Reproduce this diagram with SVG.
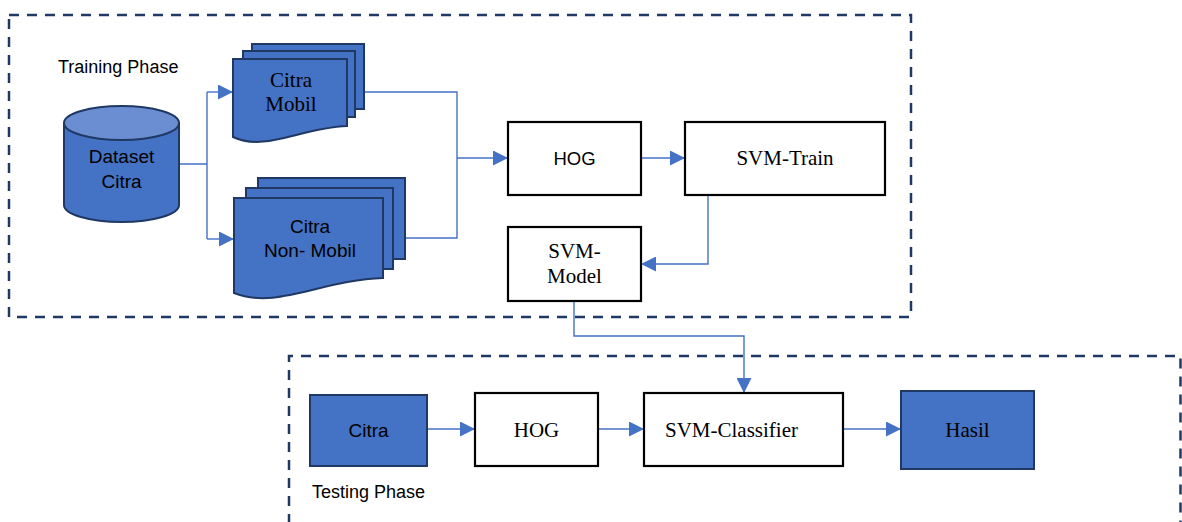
<svg xmlns="http://www.w3.org/2000/svg" width="1182" height="522" viewBox="0 0 1182 522">
  <defs>
    <marker id="arrow" viewBox="0 0 15 15" refX="15" refY="7.5" markerWidth="15" markerHeight="15" markerUnits="userSpaceOnUse" orient="auto">
      <path d="M0,0 L15,7.5 L0,15 Z" fill="#4472C4"/>
    </marker>
    <style>
      .phase { fill: none; stroke: #203864; stroke-width: 2.5; stroke-dasharray: 10 8; }
      .blue { fill: #4472C4; stroke: #203864; stroke-width: 2; }
      .cyltop { fill: #6B8ED3; stroke: #203864; stroke-width: 2; }
      .box { fill: #ffffff; stroke: #000000; stroke-width: 2.2; }
      .conn { fill: none; stroke: #4472C4; stroke-width: 1.4; }
      .sans { font-family: "Liberation Sans", Arial, sans-serif; fill: #000000; }
      .serif { font-family: "Liberation Serif", "Times New Roman", serif; fill: #000000; font-size: 21px; }
      .mid { text-anchor: middle; }
    </style>
  </defs>

  <!-- phase frames -->
  <g id="training-phase">
    <rect class="phase" x="9" y="15" width="902" height="302"/>
    <text class="sans" x="58" y="73" font-size="18">Training Phase</text>
  </g>
  <g id="testing-phase">
    <path class="phase" d="M289,524 V356 H1180.5 V524"/>
    <text class="sans" x="312" y="498" font-size="18">Testing Phase</text>
  </g>

  <!-- connectors -->
  <g id="connectors">
    <path class="conn" d="M179,164 H207 M207,92 V239"/>
    <path class="conn" d="M207,92 H233" marker-end="url(#arrow)"/>
    <path class="conn" d="M207,239 H234" marker-end="url(#arrow)"/>
    <path class="conn" d="M364,92 H457 V238 H405"/>
    <path class="conn" d="M457,158 H508" marker-end="url(#arrow)"/>
    <path class="conn" d="M641,158 H685" marker-end="url(#arrow)"/>
    <path class="conn" d="M708,195 V264 H641" marker-end="url(#arrow)"/>
    <path class="conn" d="M574,301 V336 H744 V393" marker-end="url(#arrow)"/>
    <path class="conn" d="M427,429 H475" marker-end="url(#arrow)"/>
    <path class="conn" d="M598,429 H644" marker-end="url(#arrow)"/>
    <path class="conn" d="M843,429 H901" marker-end="url(#arrow)"/>
  </g>

  <!-- dataset store -->
  <g id="dataset-citra">
    <path class="blue" d="M64,123 V205 A57.5,17 0 0 0 179,205 V123"/>
    <ellipse class="cyltop" cx="121.5" cy="123" rx="57.5" ry="17"/>
    <text class="sans mid" x="121.5" y="163" font-size="19">Dataset</text>
    <text class="sans mid" x="121.5" y="188" font-size="19">Citra</text>
  </g>

  <!-- image sets -->
  <g id="citra-mobil">
    <rect class="blue" x="252" y="44" width="112" height="65"/>
    <rect class="blue" x="243" y="51" width="112" height="66"/>
    <path class="blue" d="M233,59 H347 V126 C300,128 265,152 233,137 Z"/>
    <text class="serif mid" x="291" y="87">Citra</text>
    <text class="serif mid" x="291" y="111">Mobil</text>
  </g>
  <g id="citra-non-mobil">
    <rect class="blue" x="258" y="178" width="147" height="81"/>
    <rect class="blue" x="246" y="188" width="147" height="81"/>
    <path class="blue" d="M234,198 H383 V278 C322,280 276,310 234,293 Z"/>
    <text class="sans mid" x="310" y="233" font-size="19">Citra</text>
    <text class="sans mid" x="310" y="257" font-size="19">Non- Mobil</text>
  </g>

  <!-- training steps -->
  <g id="hog-train">
    <rect class="box" x="508" y="122" width="133" height="73"/>
    <text class="sans mid" x="574.5" y="165" font-size="18.5">HOG</text>
  </g>
  <g id="svm-train">
    <rect class="box" x="685" y="122" width="200" height="73"/>
    <text class="serif mid" x="785" y="165">SVM-Train</text>
  </g>
  <g id="svm-model">
    <rect class="box" x="508" y="227" width="133" height="74"/>
    <text class="serif mid" x="574.5" y="258">SVM-</text>
    <text class="serif mid" x="574.5" y="283">Model</text>
  </g>

  <!-- testing steps -->
  <g id="citra-test">
    <rect class="blue" x="310" y="395" width="117" height="71"/>
    <text class="sans mid" x="368.5" y="437" font-size="19">Citra</text>
  </g>
  <g id="hog-test">
    <rect class="box" x="475" y="393" width="123" height="73"/>
    <text class="serif mid" x="536.5" y="437">HOG</text>
  </g>
  <g id="svm-classifier">
    <rect class="box" x="644" y="393" width="199" height="73"/>
    <text class="serif" x="665" y="437">SVM-Classifier</text>
  </g>
  <g id="hasil">
    <rect class="blue" x="901" y="391" width="133" height="78"/>
    <text class="serif mid" x="967.5" y="437">Hasil</text>
  </g>
</svg>
